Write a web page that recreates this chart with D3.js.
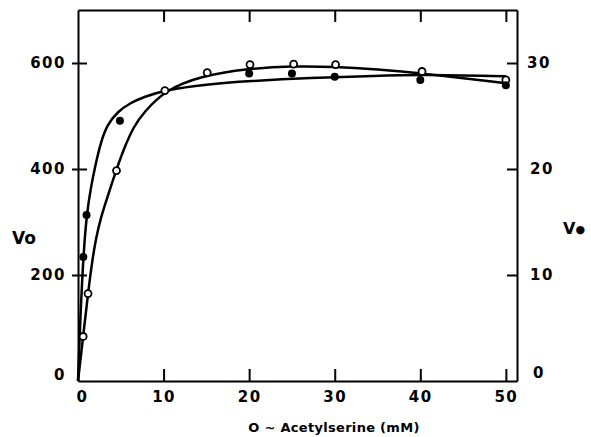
<!DOCTYPE html>
<html>
<head>
<meta charset="utf-8">
<script src="https://cdn.jsdelivr.net/npm/d3@7"></script>
<style>
  body { margin: 0; background: #fff; }
  text { font-family: "DejaVu Sans", sans-serif; font-weight: bold; fill: #000; }
</style>
</head>
<body>
<div id="chart"></div>
<script>
// O-acetylserine concentration ticks (mM)
const xTicks = [0, 10, 20, 30, 40, 50];
const leftTicks = [0, 200, 400, 600];
const rightTicks = [0, 10, 20, 30];

// open circles, left axis (Vo)
const openX = [0.6, 1.17, 4.5, 10.15, 15.1, 20.1, 25.2, 30.1, 40.2, 50];
const openY = [84, 165, 397, 548, 582, 597, 598, 597, 584, 568];

// filled circles, right axis (V●)
const filledX = [0.62, 1.0, 4.9, 20, 25, 30, 40, 50];
const filledY = [11.7, 15.65, 24.55, 29.0, 29.0, 28.7, 28.4, 27.9];

// fitted curves
const openCurveX = [0, 0.6, 1.17, 1.6, 2.1, 2.7, 3.4, 4.4, 5.4, 6.5, 7.7, 10.15, 14.2, 20, 25, 30, 35, 40, 50];
const openCurveY = [0, 84, 165, 220, 270, 310, 345, 395, 440, 480, 507, 548, 575, 590, 594, 593, 588, 581, 562];
const filledCurveX = [0, 0.3, 0.62, 1.0, 1.5, 2, 2.65, 3.4, 4.6, 6.15, 7.7, 10.15, 15, 20, 27, 35, 40, 50];
const filledCurveY = [0, 6.5, 11.7, 15.65, 18.25, 20.25, 22.5, 24.15, 25.4, 26.25, 26.8, 27.45, 28.0, 28.3, 28.6, 28.8, 28.9, 28.75];

const W = 591, H = 437;
const margin = { top: 10, right: 74, bottom: 56, left: 78 };

const svg = d3.select("#chart").append("svg")
    .attr("width", W)
    .attr("height", H);

const x = d3.scaleLinear().domain([0, 51.3]).range([margin.left, W - margin.right]);
const yL = d3.scaleLinear().domain([0, 700]).range([H - margin.bottom, margin.top]);
const yR = d3.scaleLinear().domain([0, 35]).range([H - margin.bottom, margin.top]);

const fontSize = "15px";

// bottom axis
const gx = svg.append("g")
    .attr("transform", "translate(0," + (H - margin.bottom) + ")")
    .call(d3.axisBottom(x).tickValues(xTicks).tickSizeInner(-12).tickSizeOuter(0).tickPadding(10));
gx.selectAll(".tick").filter(d => d === 0).select("line").remove();
gx.selectAll(".tick").filter(d => d === 0).select("text").attr("x", 4);

// top axis
svg.append("g")
    .attr("transform", "translate(0," + margin.top + ")")
    .call(d3.axisTop(x).tickValues(xTicks.filter(d => d > 0)).tickSizeInner(-12).tickSizeOuter(0).tickFormat(""));

// left axis
const gl = svg.append("g")
    .attr("transform", "translate(" + margin.left + ",0)")
    .call(d3.axisLeft(yL).tickValues(leftTicks).tickSizeInner(6).tickSizeOuter(0).tickPadding(6));
gl.selectAll(".tick").filter(d => d === 0).select("line").remove();
gl.selectAll(".tick line").attr("x1", 9);
gl.selectAll(".tick").filter(d => d === 0).select("text").attr("y", -6);

// right axis
const gr = svg.append("g")
    .attr("transform", "translate(" + (W - margin.right) + ",0)")
    .call(d3.axisRight(yR).tickValues(rightTicks).tickSizeInner(-10).tickSizeOuter(0).tickPadding(10));
gr.selectAll(".tick").filter(d => d === 0).select("line").remove();
gr.selectAll(".tick").filter(d => d === 0).select("text").attr("y", -8).attr("x", 16);
gr.selectAll(".tick").filter(d => d === 10 || d === 20).select("text").attr("x", 13);

svg.selectAll(".domain").attr("stroke", "#000").attr("stroke-width", 2);
svg.selectAll(".tick line").attr("stroke", "#000").attr("stroke-width", 2);
svg.selectAll(".tick text")
    .style("font-size", fontSize)
    .style("letter-spacing", "1.5px")
    .style("font-family", "'DejaVu Sans', sans-serif")
    .style("font-weight", "bold");

// curves
const lineL = d3.line().x(d => x(d[0])).y(d => yL(d[1])).curve(d3.curveBasis);
const lineR = d3.line().x(d => x(d[0])).y(d => yR(d[1])).curve(d3.curveBasis);

svg.append("path")
    .datum(d3.zip(openCurveX, openCurveY))
    .attr("fill", "none")
    .attr("stroke", "#000")
    .attr("stroke-width", 2.5)
    .attr("d", lineL);

svg.append("path")
    .datum(d3.zip(filledCurveX, filledCurveY))
    .attr("fill", "none")
    .attr("stroke", "#000")
    .attr("stroke-width", 2.5)
    .attr("d", lineR);

// points
svg.selectAll(".pt-open")
    .data(d3.zip(openX, openY))
    .enter().append("circle")
    .attr("class", "pt-open")
    .attr("cx", d => x(d[0]))
    .attr("cy", d => yL(d[1]))
    .attr("r", 3.5)
    .attr("fill", "#fff")
    .attr("stroke", "#000")
    .attr("stroke-width", 1.8);

svg.selectAll(".pt-filled")
    .data(d3.zip(filledX, filledY))
    .enter().append("circle")
    .attr("class", "pt-filled")
    .attr("cx", d => x(d[0]))
    .attr("cy", d => yR(d[1]))
    .attr("r", 4)
    .attr("fill", "#000");

// axis titles
svg.append("text")
    .attr("x", 334)
    .attr("y", 432)
    .attr("text-anchor", "middle")
    .style("font-size", "13px")
    .style("letter-spacing", "0.3px")
    .text("O ~ Acetylserine (mM)");

svg.append("text")
    .attr("x", 12)
    .attr("y", 244)
    .style("font-size", "17px")
    .text("Vo");

const vr = svg.append("text")
    .attr("x", 563)
    .attr("y", 234)
    .style("font-size", "16px");
vr.append("tspan").text("V");
vr.append("tspan").style("font-size", "11px").attr("dy", -1).text("●");
</script>
</body>
</html>
